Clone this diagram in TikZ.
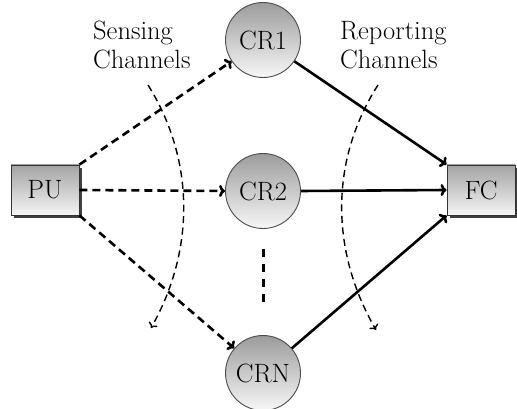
\documentclass[tikz,border=0pt]{standalone}
\usetikzlibrary{shadows,arrows.meta}
\begin{document}
\begin{tikzpicture}[x=1pt,y=-1pt,
  font=\fontsize{26.5}{29}\selectfont,
  box/.style={draw=black!80, line width=0.9pt, minimum width=68pt, minimum height=50pt,
    inner sep=0pt, top color=gray!72, bottom color=gray!8,
    drop shadow={shadow xshift=3pt, shadow yshift=-3pt, fill=black!75, opacity=1}},
  cr/.style={circle, draw=black!70, line width=0.9pt, minimum size=75pt, inner sep=0pt,
    top color=gray!78, bottom color=gray!6},
  sense/.style={line width=2.6pt, dash pattern=on 8pt off 5pt, -{To[length=6pt,width=12pt]}},
  report/.style={line width=2.6pt, -{To[length=6pt,width=12pt]}},
  chan/.style={line width=1.4pt, dash pattern=on 7pt off 4.5pt, -{To[length=5pt,width=10pt]}},
  dots/.style={line width=3pt, dash pattern=on 8pt off 7pt},
  lbl/.style={align=left, anchor=north west, inner sep=0pt}]
\useasboundingbox (0,0) rectangle (517,409);

\node[box] (PU) at (45,190) {PU};
\node[box] (FC) at (481,190) {FC};
\node[cr] (CR1) at (263,40) {CR1};
\node[cr] (CR2) at (263,191) {CR2};
\node[cr] (CRN) at (263,373) {CRN};

\node[lbl] (sl) at (93,21) {Sensing\\Channels};
\node[lbl] (rl) at (340,21) {Reporting\\Channels};

\draw[sense] (PU.north east) -- (CR1);
\draw[sense] (PU.east) -- (CR2.west);
\draw[sense] (PU.south east) -- (CRN);

\draw[report] (CR1) -- (FC.north west);
\draw[report] (CR2.east) -- (FC.west);
\draw[report] (CRN) -- (FC.south west);

\coordinate (d1) at (263,249);
\coordinate (d2) at (263,307);
\draw[dots] (d1) -- (d2);

\coordinate (sa) at (148,85);
\coordinate (sb) at (151,328);
\coordinate (ra) at (378,85);
\coordinate (rb) at (376,330);
\draw[chan] (sa) .. controls (195,160) and (195,250) .. (sb);
\draw[chan] (ra) .. controls (330,160) and (330,250) .. (rb);
\end{tikzpicture}
\end{document}
